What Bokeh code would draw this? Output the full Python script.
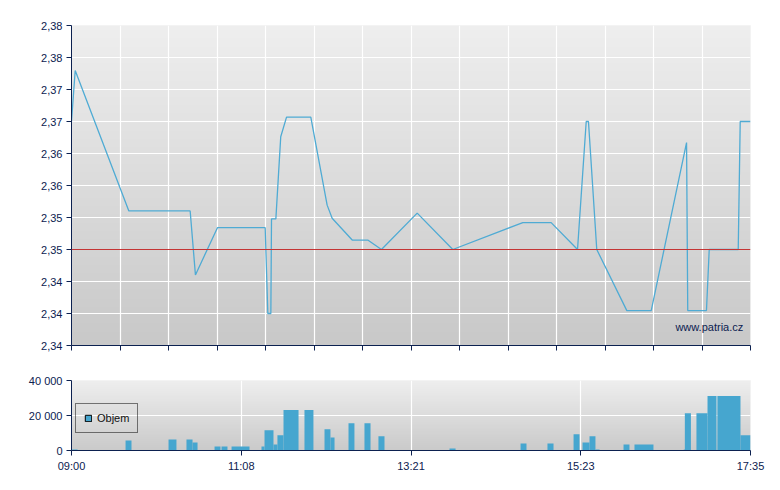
import numpy as np
from bokeh.plotting import figure
from bokeh.layouts import column
from bokeh.models import Range1d, FixedTicker, Label, Legend, LegendItem, Span
from bokeh.embed import file_html
from bokeh.resources import INLINE

# ---- data (x = minutes after 09:00) ----
price_t = [0, 2.8, 43.5, 90.0, 94.0, 110.7, 146.9, 148.9, 151.2, 151.7, 155.0, 158.7, 163.1,
           181.5, 193.9, 197.7, 212.9, 224.7, 235.1, 262.2, 289.2, 342.3, 363.8, 383.8,
           390.4, 392.1, 398.4, 421.2, 439.7, 466.5, 467.4, 481.6, 483.7, 505.7, 507.2, 515]
price_v = [2.3668, 2.3738, 2.3545, 2.3545, 2.3457, 2.3522, 2.3522, 2.3404, 2.3404, 2.3534, 2.3534,
           2.3647, 2.3674, 2.3674, 2.3553, 2.3535, 2.3505, 2.3505, 2.3492, 2.3542, 2.3492, 2.3529,
           2.3529, 2.3492, 2.3668, 2.3668, 2.3492, 2.3408, 2.3408, 2.3639, 2.3408, 2.3408,
           2.3492, 2.3492, 2.3668, 2.3668]
ref_price = 2.3492

vol_start = [0, 41.0, 73.6, 87.2, 91.8, 108.5, 113.8, 121.4, 144.1, 146.4, 153.2, 156.2, 160.8,
             176.7, 191.9, 196.4, 210.1, 222.2, 232.8, 286.7, 340.6, 361.0, 380.8, 387.6, 392.9,
             397.4, 418.7, 427.0, 464.4, 465.2, 474.0, 482.4, 489.9, 507.4]
vol_end = [4.6, 45.5, 79.6, 91.8, 95.6, 113.0, 118.3, 135.0, 146.4, 153.2, 156.2, 160.8, 172.2,
           183.5, 196.4, 199.5, 214.6, 226.8, 237.4, 291.3, 345.1, 365.6, 385.3, 392.9, 397.4,
           400.5, 423.2, 441.4, 465.2, 469.8, 482.4, 489.2, 507.4, 515.0]
vol_val = [600, 5770, 6350, 6350, 4600, 2300, 2300, 2300, 2300, 11540, 3460, 8650, 23080,
           23080, 12100, 7500, 15580, 15580, 8080, 1150, 4040, 4040, 9230, 4600, 8080,
           580, 3460, 3460, 580, 21350, 21350, 31150, 31150, 8650]

y_ticks = [2.336, 2.3404, 2.3448, 2.3492, 2.3536, 2.358, 2.3624, 2.3668, 2.3712, 2.3756, 2.38]
y_tick_labels = ["2,34", "2,34", "2,34", "2,35", "2,35", "2,36", "2,36", "2,37", "2,37", "2,38", "2,38"]
x_ticks = [0, 128.75, 257.5, 386.25, 515]
x_tick_labels = ["09:00", "11:08", "13:21", "15:23", "17:35"]
vol_ticks = [0, 20000, 40000]
vol_tick_labels = ["0", "20 000", "40 000"]

X0, X1 = 0, 515
AXIS = "#0c2150"
TXT = "#0c2150"
LINE = "#4fabd4"
BAR = "#46a6cf"
FONT = "Liberation Sans"


def gradient(top_rgb, bot_rgb, n=200):
    img = np.empty((n, 2), dtype=np.uint32)
    view = img.view(dtype=np.uint8).reshape((n, 2, 4))
    for i in range(n):
        f = i / (n - 1)
        c = [int(round(bot_rgb[k] + (top_rgb[k] - bot_rgb[k]) * f)) for k in range(3)]
        view[i, :, 0] = c[0]
        view[i, :, 1] = c[1]
        view[i, :, 2] = c[2]
        view[i, :, 3] = 255
    return img


def style(p):
    p.outline_line_color = "#f6f6f6"
    p.background_fill_color = "#dddddd"
    p.border_fill_color = "white"
    for ax in (p.xaxis[0], p.yaxis[0]):
        ax.axis_line_color = AXIS
        ax.major_tick_line_color = AXIS
        ax.major_tick_out = 5
        ax.major_tick_in = 0
        ax.minor_tick_line_color = None
        ax.major_label_text_font = FONT
        ax.major_label_text_font_size = "11px"
        ax.major_label_text_color = TXT
        ax.major_label_standoff = 4
    p.xgrid.grid_line_color = "white"
    p.ygrid.grid_line_color = "white"
    p.xgrid.grid_line_width = 1.2
    p.ygrid.grid_line_width = 1.2


# ---- top price chart ----
p1 = figure(width=768, height=370, output_backend="svg", toolbar_location=None,
            x_range=Range1d(X0, X1), y_range=Range1d(y_ticks[0], y_ticks[-1]),
            min_border_left=71, min_border_right=18, min_border_top=25, min_border_bottom=25)
style(p1)
p1.image_rgba(image=[gradient((238, 238, 238), (200, 200, 200))], x=X0, y=y_ticks[0],
              dw=X1 - X0, dh=y_ticks[-1] - y_ticks[0], level="image")
top_xt = [X0 + (X1 - X0) * i / 14 for i in range(15)]
p1.xaxis.ticker = FixedTicker(ticks=top_xt)
p1.xaxis.major_label_text_color = None
p1.yaxis.ticker = FixedTicker(ticks=y_ticks)
p1.yaxis.major_label_overrides = {t: l for t, l in zip(y_ticks, y_tick_labels)}
p1.add_layout(Span(location=ref_price, dimension="width", line_color="#c43434", line_width=1.2))
p1.line(price_t, price_v, line_color=LINE, line_width=1.3)
p1.add_layout(Label(x=X1 - 5.5, y=y_ticks[0] + 0.0026, text="www.patria.cz", text_align="right",
                    text_baseline="middle", text_font=FONT, text_font_size="11px", text_color=TXT))

# ---- bottom volume chart ----
p2 = figure(width=768, height=110, output_backend="svg", toolbar_location=None,
            x_range=Range1d(X0, X1), y_range=Range1d(0, 40000),
            min_border_left=71, min_border_right=18, min_border_top=10, min_border_bottom=30)
style(p2)
p2.image_rgba(image=[gradient((238, 238, 238), (202, 202, 202))], x=X0, y=0,
              dw=X1 - X0, dh=40000, level="image")
p2.xaxis.ticker = FixedTicker(ticks=x_ticks)
p2.xaxis.major_label_overrides = {t: l for t, l in zip(x_ticks, x_tick_labels)}
p2.yaxis.ticker = FixedTicker(ticks=vol_ticks)
p2.yaxis.major_label_overrides = {t: l for t, l in zip(vol_ticks, vol_tick_labels)}
p2.quad(left=vol_start, right=vol_end, bottom=0, top=vol_val, fill_color=BAR, line_color=None)
proxy = p2.quad(left=vol_start, right=vol_end, bottom=0, top=vol_val,
                fill_color=BAR, line_color="black", line_width=1, visible=False)
legend = Legend(items=[LegendItem(label="Objem", renderers=[proxy])], location=(4, 17),
                padding=8, margin=0, glyph_width=8, glyph_height=8, label_height=12,
                label_standoff=5, label_text_font=FONT, label_text_font_size="11px",
                label_text_color="#111111", border_line_color="black", border_line_width=1,
                background_fill_alpha=0, spacing=0)
p2.add_layout(legend)

layout = column(p1, p2, spacing=0)
open("out.html", "w").write(file_html(layout, INLINE))
